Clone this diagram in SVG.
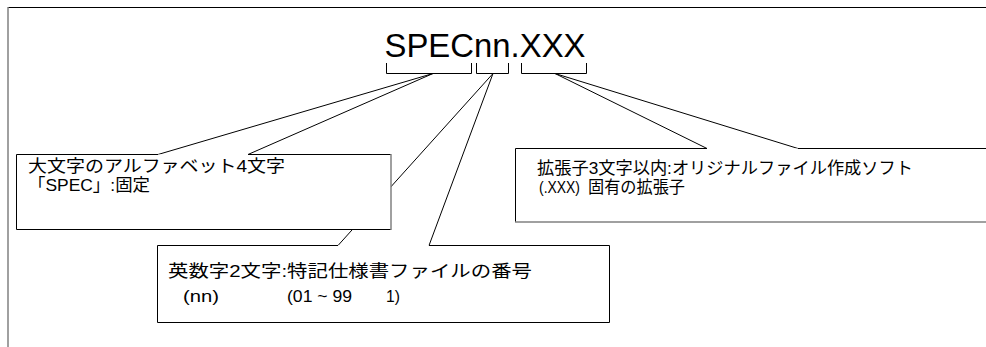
<svg xmlns="http://www.w3.org/2000/svg" width="986" height="347" viewBox="0 0 986 347">
<style>
.ln{stroke:#000;stroke-width:1;fill:none}
.box{fill:#fff;stroke:none}
.ed{stroke:#000;stroke-width:1;fill:none}
.sh{stroke:#808080;stroke-width:1.5;fill:none}
.t{font-family:"Liberation Sans","Noto Sans CJK JP",sans-serif;font-size:17px;fill:#000}
.title{font-family:"Liberation Sans","Noto Sans CJK JP",sans-serif;font-size:33px;fill:#000}
</style>
<rect width="986" height="347" fill="#fff"/>
<g id="frame">
<line x1="8" y1="7.5" x2="986" y2="7.5" class="ed"/>
<line x1="8" y1="7" x2="8" y2="347" class="sh"/>
</g>
<g id="title">
<text x="384.5" y="57" class="title" textLength="201" lengthAdjust="spacingAndGlyphs">SPECnn.XXX</text>
<path class="ln" d="M386.5,63 V73.5 H471.5 V63"/>
<path class="ln" d="M476.5,63 V73.5 H508.5 V63"/>
<path class="ln" d="M521.5,63 V73.5 H586.5 V63"/>
</g>
<g id="connectors">
<line class="ln" x1="433" y1="73.5" x2="158" y2="154.5"/>
<line class="ln" x1="433" y1="73.5" x2="248" y2="154.5"/>
<line class="ln" x1="493" y1="73.5" x2="338" y2="245.5"/>
<line class="ln" x1="493" y1="73.5" x2="429" y2="245.5"/>
<line class="ln" x1="555" y1="73.5" x2="707" y2="148.5"/>
<line class="ln" x1="555" y1="73.5" x2="798" y2="148.5"/>
</g>
<g id="box2">
<rect class="box" x="157" y="245.5" width="452" height="77"/>
<path class="ed" d="M338,245.5 H157.5 V322.5 H609.5 V245.5 H429"/>
<text class="t" x="168" y="277" textLength="364" lengthAdjust="spacingAndGlyphs">英数字2文字:特記仕様書ファイルの番号</text>
<text class="t" x="183" y="302" textLength="36" lengthAdjust="spacingAndGlyphs">(nn)</text>
<text class="t" x="287" y="302" textLength="65" lengthAdjust="spacingAndGlyphs">(01 ~ 99</text>
<text class="t" x="386" y="302" textLength="14" lengthAdjust="spacingAndGlyphs">1)</text>
</g>
<g id="box1">
<rect class="box" x="16" y="154.5" width="375" height="75"/>
<path class="ed" d="M158,154.5 H16.5 V229.5 H391"/>
<path class="ed" d="M248,154.5 H391"/>
<line class="sh" x1="391" y1="154" x2="391" y2="230"/>
<text class="t" x="28" y="172" textLength="257" lengthAdjust="spacingAndGlyphs">大文字のアルファベット4文字</text>
<text class="t" x="28" y="191" textLength="122" lengthAdjust="spacingAndGlyphs">「SPEC」:固定</text>
</g>
<g id="box3">
<rect class="box" x="515" y="148.5" width="480" height="73"/>
<path class="ed" d="M707,148.5 H515.5 V222"/>
<path class="ed" d="M798,148.5 H990"/>
<line class="sh" x1="515" y1="222" x2="990" y2="222"/>
<text class="t" x="537" y="174" textLength="376" lengthAdjust="spacingAndGlyphs">拡張子3文字以内:オリジナルファイル作成ソフト</text>
<text class="t" x="539" y="193" textLength="41" lengthAdjust="spacingAndGlyphs">(.XXX)</text>
<text class="t" x="588" y="193" textLength="97" lengthAdjust="spacingAndGlyphs">固有の拡張子</text>
</g>
</svg>
